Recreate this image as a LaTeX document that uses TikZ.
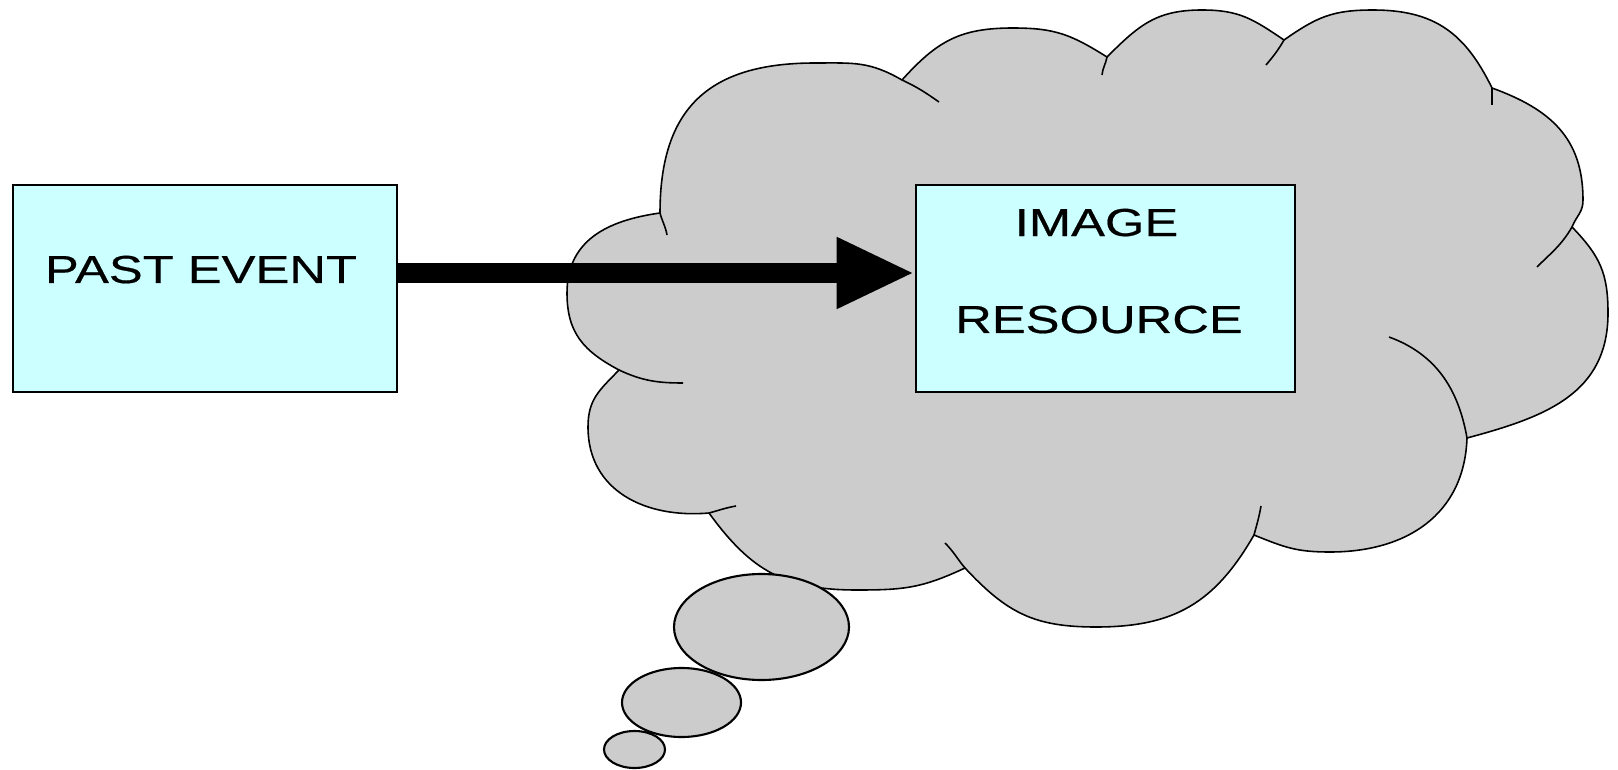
\documentclass[tikz,border=0pt]{standalone}
\usepackage{fontspec}
\newfontfamily\boxfont{Liberation Sans}[FakeStretch=1.3, FakeBold=0.5]
\usepackage{tikz}
\usetikzlibrary{arrows.meta}
\definecolor{cloudgray}{RGB}{204,204,204}
\definecolor{boxcyan}{RGB}{204,255,255}

\begin{document}
\begin{tikzpicture}[x=0.01cm, y=0.01cm,
    cloudline/.style={draw=black, line width=0.45pt},
    bubble/.style={fill=cloudgray, draw=black, line width=0.6pt},
    eventbox/.style={draw=black, fill=boxcyan, line width=0.7pt, inner sep=0pt, minimum height=2.07cm},
    boxtext/.style={anchor=base, inner sep=0pt, font=\boxfont\fontsize{11.1}{13}\selectfont},
    flow/.style={line width=0.2cm, -{Triangle[length=0.78cm, width=0.66cm]}}]
  \useasboundingbox (0,0) rectangle (1618,769);
  % Points where the puffs of the cloud meet
  \coordinate (j1) at (660,556);
  \coordinate (j2) at (902,689);
  \coordinate (j3) at (1107,712);
  \coordinate (j4) at (1284,729);
  \coordinate (j5) at (1492,681);
  \coordinate (j6) at (1572,542);
  \coordinate (j7) at (1467,331);
  \coordinate (j8) at (1254,234);
  \coordinate (j9) at (965,201);
  \coordinate (j10) at (709,256);
  \coordinate (j11) at (619,399);
  % Draw the cloud
  \path[fill=cloudgray, cloudline, looseness=1.1]
    (j1) to[out=90, in=180, looseness=1.25] (815,706) to[out=0, in=150] (j2)
    to[out=48, in=180] (1013,741) to[out=0, in=148] (j3)
    to[out=45, in=180] (1202,759) to[out=0, in=146] (j4)
    to[out=35, in=180] (1373,759) to[out=0, in=116] (j5)
    to[out=-20, in=90] (1583,569) to[out=-90, in=68] (j6)
    to[out=-46, in=90] (1608,456) to[out=-90, in=15] (j7)
    to[out=-92, in=0] (1330,217) to[out=180, in=-22] (j8)
    to[out=-120, in=0] (1096,142) to[out=180, in=-47] (j9)
    to[out=205, in=0] (857,179) to[out=180, in=-54] (j10)
    to[out=185, in=-90] (588,342) to[out=90, in=226] (j11)
    to[out=152, in=-90] (567,476) to[out=90, in=188] (j1) -- cycle;
  % Inner arcs of the puffs
  \draw[cloudline] (j1) to[out=-75, in=100] (667,534);
  \draw[cloudline] (j2) to[out=-25, in=145] (939,667);
  \draw[cloudline] (j3) to[out=-100, in=85] (1102,694);
  \draw[cloudline] (j4) to[out=-120, in=50] (1266,704);
  \draw[cloudline] (j5) -- (1492,664);
  \draw[cloudline] (j6) to[out=-120, in=45] (1537,502);
  \draw[cloudline] (j7) to[out=100, in=-20] (1389,432);
  \draw[cloudline] (j8) to[out=75, in=-100] (1261,263);
  \draw[cloudline] (j9) to[out=130, in=-45] (945,226);
  \draw[cloudline] (j10) to[out=15, in=190] (736,263);
  \draw[cloudline] (j11) to[out=-25, in=180] (683,386);
  % Draw the bubbles
  \filldraw[bubble] (761.5,142) ellipse (87.5 and 53);
  \filldraw[bubble] (681.5,66.5) ellipse (59.5 and 34.5);
  \filldraw[bubble] (634.5,19.5) ellipse (30.5 and 18.5);
  % Draw the boxes
  \node[eventbox, minimum width=3.84cm] (past) at (205,480.5) {};
  \node[eventbox, minimum width=3.79cm] (image) at (1105.5,480.5) {};
  % Draw the arrow
  \draw[flow] ([yshift=0.155cm]past.east) -- ([yshift=0.155cm]image.west);
  % Labels
  \node[boxtext] (pastlabel) at (201,486) {PAST EVENT};
  \node[boxtext] (imagelabel) at (1096.5,533) {IMAGE};
  \node[boxtext] (resourcelabel) at (1099,436) {RESOURCE};
\end{tikzpicture}
\end{document}
